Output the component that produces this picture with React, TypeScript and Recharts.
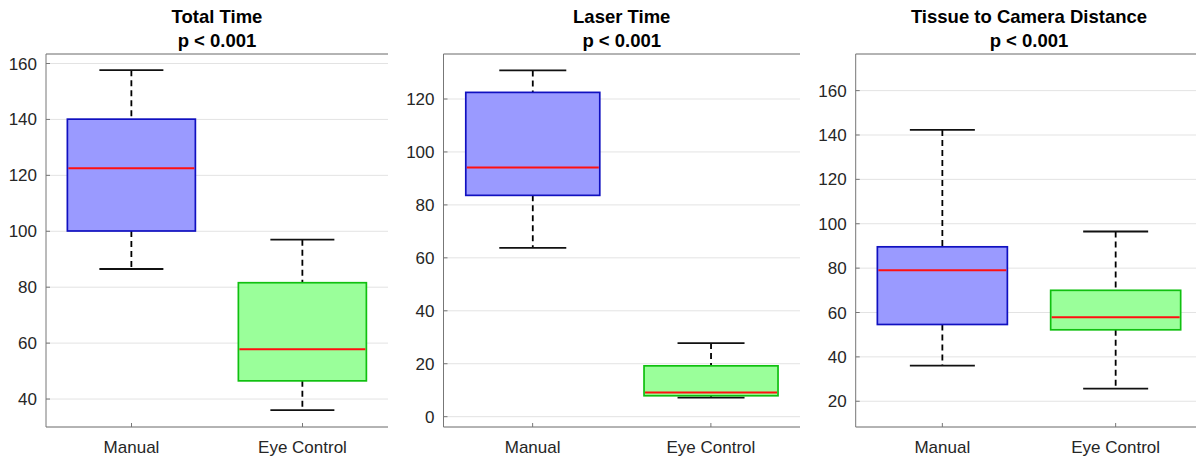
import React from 'react';
import { ComposedChart, Bar, XAxis, YAxis, CartesianGrid } from 'recharts';

const categories = ['Manual', 'Eye Control'];

// Total Time
const totalMin = [86.5, 36.0];
const totalQ1 = [100.1, 46.5];
const totalMedian = [122.5, 57.8];
const totalQ3 = [140.1, 81.6];
const totalMax = [157.6, 97.0];
const totalTicks = [40, 60, 80, 100, 120, 140, 160];

// Laser Time
const laserMin = [63.8, 7.2];
const laserQ1 = [83.6, 7.9];
const laserMedian = [94.1, 9.1];
const laserQ3 = [122.5, 19.2];
const laserMax = [130.8, 27.8];
const laserTicks = [0, 20, 40, 60, 80, 100, 120];

// Tissue to Camera Distance
const distMin = [36.1, 25.7];
const distQ1 = [54.6, 52.2];
const distMedian = [79.0, 57.9];
const distQ3 = [89.6, 70.0];
const distMax = [142.3, 96.5];
const distTicks = [20, 40, 60, 80, 100, 120, 140, 160];

const titles = ['Total Time', 'Laser Time', 'Tissue to Camera Distance'];
const pLabel = 'p < 0.001';

const FONT = '"Liberation Sans", Arial, Helvetica, sans-serif';
const BOX_FILL = ['#9a9aff', '#9aff9a'];
const BOX_STROKE = ['#1010c0', '#10c010'];
const AXIS = '#777777';

const buildRows = (mins: number[], q1s: number[], meds: number[], q3s: number[], maxs: number[]) =>
  categories.map((name, i) => ({ name, min: mins[i], q1: q1s[i], median: meds[i], q3: q3s[i], max: maxs[i] }));

const BoxShape = (props: any) => {
  const { x, y, width, height, payload, index } = props;
  const { min, q1, median, q3, max } = payload;
  // bar spans min..max, linear scale so interpolate inside it
  const py = (v: number) => y + ((max - v) / (max - min)) * height;
  const cx = x + width / 2;
  const cap = width / 4;
  return (
    <g>
      <line x1={cx} x2={cx} y1={py(max)} y2={py(q3)} stroke="#000" strokeWidth={1.8} strokeDasharray="6 4" />
      <line x1={cx} x2={cx} y1={py(q1)} y2={py(min)} stroke="#000" strokeWidth={1.8} strokeDasharray="6 4" />
      <line x1={cx - cap} x2={cx + cap} y1={py(max)} y2={py(max)} stroke="#111" strokeWidth={1.8} />
      <line x1={cx - cap} x2={cx + cap} y1={py(min)} y2={py(min)} stroke="#111" strokeWidth={1.8} />
      <rect
        x={x}
        y={py(q3)}
        width={width}
        height={py(q1) - py(q3)}
        fill={BOX_FILL[index % 2]}
        stroke={BOX_STROKE[index % 2]}
        strokeWidth={1.7}
      />
      <line x1={x + 1} x2={x + width - 1} y1={py(median)} y2={py(median)} stroke="#ff1010" strokeWidth={2} />
    </g>
  );
};

interface PanelProps {
  rows: any[];
  domain: [number, number];
  ticks: number[];
  left: number;
  width: number;
  yAxisWidth: number;
  marginRight: number;
  title: string;
}

const tickStyle = { fontSize: 17, fill: '#262626', fontFamily: FONT };

const BoxPanel: React.FC<PanelProps> = ({ rows, domain, ticks, left, width, yAxisWidth, marginRight, title }) => {
  const plotLeft = left + yAxisWidth;
  const plotWidth = width - yAxisWidth - marginRight;
  return (
    <>
      <div
        style={{
          position: 'absolute',
          left: plotLeft,
          width: plotWidth,
          top: 4.6,
          textAlign: 'center',
          fontFamily: FONT,
          fontWeight: 'bold',
          fontSize: 18.5,
          lineHeight: '24px',
          color: '#000',
          whiteSpace: 'nowrap',
        }}
      >
        <div>{title}</div>
        <div>{pLabel}</div>
      </div>
      <div style={{ position: 'absolute', left, top: 0 }}>
        <ComposedChart
          width={width}
          height={457}
          data={rows}
          margin={{ top: 53, right: marginRight, bottom: 0, left: 0 }}
          barCategoryGap="12.5%"
        >
          <CartesianGrid xAxisId="b" yAxisId="l" vertical={false} stroke="#e3e3e3" />
          <XAxis
            xAxisId="b"
            dataKey="name"
            height={30}
            stroke={AXIS}
            tickSize={-4}
            tickMargin={17.5}
            tick={tickStyle}
            interval={0}
          />
          <XAxis xAxisId="t" orientation="top" dataKey="name" height={1} stroke={AXIS} tick={false} tickSize={-4} />
          <YAxis
            yAxisId="l"
            type="number"
            domain={domain}
            ticks={ticks}
            allowDataOverflow
            width={yAxisWidth}
            stroke={AXIS}
            tickSize={-4}
            tickMargin={13}
            tick={tickStyle}
            interval={0}
          />
          <YAxis
            yAxisId="r"
            orientation="right"
            type="number"
            domain={domain}
            ticks={ticks}
            allowDataOverflow
            width={0}
            stroke={AXIS}
            tick={false}
            tickSize={-4}
          />
          <Bar
            xAxisId="b"
            yAxisId="l"
            dataKey={(d: any) => [d.min, d.max]}
            shape={BoxShape}
            isAnimationActive={false}
          />
        </ComposedChart>
      </div>
    </>
  );
};

export default function App() {
  const totalRows = buildRows(totalMin, totalQ1, totalMedian, totalQ3, totalMax);
  const laserRows = buildRows(laserMin, laserQ1, laserMedian, laserQ3, laserMax);
  const distRows = buildRows(distMin, distQ1, distMedian, distQ3, distMax);
  return (
    <div
      style={{
        position: 'absolute',
        left: 0,
        top: 0,
        width: 1196,
        height: 457,
        overflow: 'hidden',
        background: '#fff',
      }}
    >
      <BoxPanel rows={totalRows} domain={[30, 163.4]} ticks={totalTicks} left={0} width={400} yAxisWidth={46} marginRight={12} title={titles[0]} />
      <BoxPanel rows={laserRows} domain={[-3.9, 137]} ticks={laserTicks} left={400} width={410} yAxisWidth={43.5} marginRight={10} title={titles[1]} />
      <BoxPanel rows={distRows} domain={[8.4, 176.5]} ticks={distTicks} left={810} width={400} yAxisWidth={45.7} marginRight={7.7} title={titles[2]} />
    </div>
  );
}
